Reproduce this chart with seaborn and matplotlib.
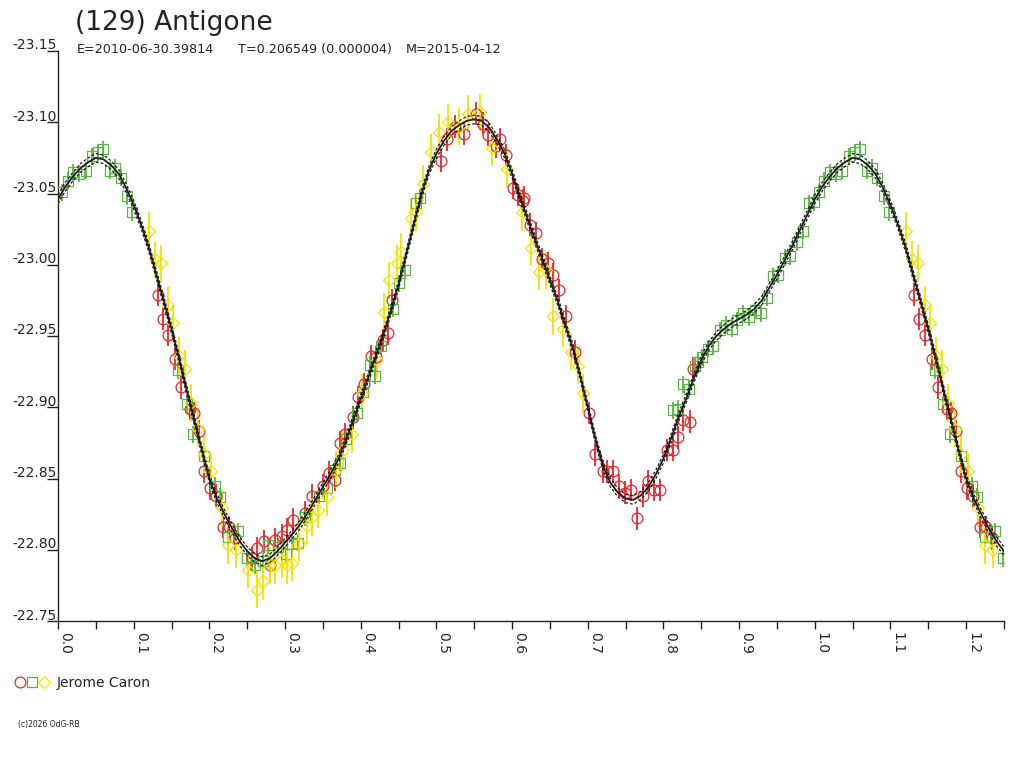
import numpy as np
import pandas as pd
import matplotlib
matplotlib.use("Agg")
import matplotlib.pyplot as plt
import matplotlib.transforms as mtransforms
from matplotlib.lines import Line2D
from matplotlib.legend_handler import HandlerTuple
import seaborn as sns

# ---------------- data ----------------
title = "(129) Antigone"
sub_epoch = "E=2010-06-30.39814"
sub_period = "T=0.206549 (0.000004)"
sub_date = "M=2015-04-12"
observer = "Jerome Caron"
copyright_txt = "(c)2026 OdG-RB"

y_ticks = [-23.15, -23.10, -23.05, -23.00, -22.95, -22.90, -22.85, -22.80, -22.75]
y_tick_labels = ["-23.15", "-23.10", "-23.05", "-23.00", "-22.95", "-22.90", "-22.85", "-22.80", "-22.75"]
x_major = [0.0, 0.1, 0.2, 0.3, 0.4, 0.5, 0.6, 0.7, 0.8, 0.9, 1.0, 1.1, 1.2]
x_major_labels = ["0.0", "0.1", "0.2", "0.3", "0.4", "0.5", "0.6", "0.7", "0.8", "0.9", "1.0", "1.1", "1.2"]
x_minor = [0.05, 0.15, 0.25, 0.35, 0.45, 0.55, 0.65, 0.75, 0.85, 0.95, 1.05, 1.15, 1.25]

# fitted light curve, phase 0..1 every 0.01
fit_phase = [i / 100 for i in range(101)]
fit_mag = [
    -23.046, -23.055, -23.062, -23.068, -23.072, -23.075, -23.074, -23.070, -23.064, -23.054,
    -23.042, -23.028, -23.012, -22.993, -22.974, -22.955, -22.934, -22.912, -22.891, -22.870,
    -22.850, -22.836, -22.825, -22.815, -22.806, -22.799, -22.794, -22.792, -22.794, -22.799,
    -22.805, -22.811, -22.818, -22.826, -22.835, -22.844, -22.853, -22.863, -22.876, -22.891,
    -22.906, -22.921, -22.936, -22.951, -22.968, -22.986, -23.007, -23.028, -23.049, -23.066,
    -23.078, -23.087, -23.094, -23.098, -23.101, -23.102, -23.101, -23.096, -23.088, -23.078,
    -23.064, -23.048, -23.033, -23.018, -23.004, -22.989, -22.975, -22.958, -22.942, -22.922,
    -22.900, -22.878, -22.859, -22.847, -22.840, -22.836, -22.835, -22.838, -22.844, -22.853,
    -22.864, -22.878, -22.893, -22.906, -22.920, -22.933, -22.943, -22.950, -22.955, -22.959,
    -22.962, -22.965, -22.969, -22.975, -22.984, -22.993, -23.003, -23.013, -23.024, -23.035,
    -23.046,
]
fit_sigma = 0.003

red_phase = [
    0.1317, 0.1383, 0.1457, 0.1546, 0.1625, 0.1744, 0.1801, 0.1863, 0.1933, 0.2008,
    0.2088, 0.2184, 0.2264, 0.2339, 0.2560, 0.2633, 0.2722, 0.2801, 0.2867, 0.2956,
    0.3030, 0.3109, 0.3264, 0.3352, 0.3498, 0.3585, 0.3660, 0.3726, 0.3792, 0.3894,
    0.3968, 0.4043, 0.4132, 0.4202, 0.4290, 0.4364, 0.4410, 0.5057, 0.5136, 0.5246,
    0.5365, 0.5523, 0.5620, 0.5686, 0.5787, 0.5840, 0.5920, 0.6008, 0.6082, 0.6140,
    0.6158, 0.6237, 0.6316, 0.6391, 0.6479, 0.6545, 0.6624, 0.6712, 0.6831, 0.7020,
    0.7096, 0.7197, 0.7258, 0.7338, 0.7417, 0.7492, 0.7567, 0.7647, 0.7726, 0.7800,
    0.7875, 0.7955, 0.8043, 0.8122, 0.8196, 0.8262, 0.8351, 0.8387,
]
red_mag = [
    -22.979, -22.962, -22.951, -22.934, -22.914, -22.899, -22.896, -22.883, -22.855, -22.843,
    -22.838, -22.816, -22.816, -22.808, -22.794, -22.801, -22.806, -22.789, -22.807, -22.810,
    -22.814, -22.821, -22.826, -22.838, -22.845, -22.854, -22.849, -22.875, -22.881, -22.893,
    -22.907, -22.916, -22.936, -22.935, -22.947, -22.952, -22.975, -23.073, -23.088, -23.097,
    -23.092, -23.106, -23.099, -23.091, -23.083, -23.088, -23.077, -23.054, -23.049, -23.045,
    -23.047, -23.028, -23.022, -23.004, -23.001, -22.993, -22.982, -22.964, -22.939, -22.896,
    -22.867, -22.855, -22.855, -22.855, -22.845, -22.840, -22.842, -22.822, -22.838, -22.848,
    -22.842, -22.842, -22.870, -22.870, -22.879, -22.891, -22.890, -22.927,
]
red_err = 0.008

green_phase = [
    0.0050, 0.0128, 0.0202, 0.0277, 0.0366, 0.0453, 0.0525, 0.0599, 0.0687, 0.0753,
    0.0828, 0.0908, 0.0982, 0.1590, 0.1700, 0.1790, 0.1930, 0.2075, 0.2141, 0.2250,
    0.2382, 0.2493, 0.2603, 0.2705, 0.2779, 0.2911, 0.3013, 0.3088, 0.3175, 0.3264,
    0.3453, 0.3558, 0.3660, 0.3726, 0.3806, 0.3955, 0.4034, 0.4123, 0.4189, 0.4268,
    0.4430, 0.4510, 0.4585, 0.4730, 0.4783, 0.8122, 0.8196, 0.8262, 0.8342, 0.8417,
    0.8460, 0.8506, 0.8593, 0.8659, 0.8747, 0.8823, 0.8902, 0.8976, 0.9055, 0.9135,
    0.9210, 0.9285, 0.9372, 0.9452, 0.9518, 0.9606, 0.9672, 0.9761, 0.9840, 0.9927,
    0.9993,
]
green_mag = [
    -23.051, -23.059, -23.065, -23.064, -23.066, -23.076, -23.079, -23.081, -23.066, -23.068,
    -23.061, -23.048, -23.037, -22.926, -22.902, -22.881, -22.866, -22.845, -22.837, -22.809,
    -22.813, -22.794, -22.789, -22.792, -22.803, -22.802, -22.797, -22.804, -22.805, -22.823,
    -22.838, -22.843, -22.856, -22.861, -22.878, -22.896, -22.911, -22.930, -22.922, -22.943,
    -22.969, -22.987, -22.996, -23.043, -23.047, -22.898, -22.899, -22.916, -22.913, -22.929,
    -22.932, -22.935, -22.941, -22.943, -22.954, -22.958, -22.955, -22.961, -22.966, -22.963,
    -22.968, -22.966, -22.977, -22.992, -22.993, -23.005, -23.006, -23.016, -23.024, -23.043,
    -23.044,
]
green_err = 0.006

yellow_phase = [
    0.1202, 0.1282, 0.1361, 0.1450, 0.1524, 0.1600, 0.1678, 0.1757, 0.1846, 0.1933,
    0.2022, 0.2163, 0.2250, 0.2352, 0.2515, 0.2626, 0.2713, 0.2801, 0.2867, 0.2956,
    0.3022, 0.3088, 0.3188, 0.3286, 0.3352, 0.3440, 0.3550, 0.3673, 0.3762, 0.3881,
    0.4013, 0.4211, 0.4308, 0.4378, 0.4483, 0.4528, 0.4660, 0.4730, 0.4827, 0.4925,
    0.5038, 0.5157, 0.5303, 0.5422, 0.5576, 0.5731, 0.5937, 0.6127, 0.6246, 0.6360,
    0.6448, 0.6545, 0.6669, 0.6775, 0.6875, 0.6933,
]
yellow_mag = [
    -23.024, -23.004, -23.001, -22.972, -22.959, -22.936, -22.927, -22.903, -22.885, -22.867,
    -22.855, -22.829, -22.803, -22.800, -22.786, -22.772, -22.778, -22.789, -22.789, -22.793,
    -22.789, -22.791, -22.805, -22.817, -22.823, -22.828, -22.837, -22.856, -22.870, -22.881,
    -22.910, -22.933, -22.967, -22.989, -23.001, -23.009, -23.033, -23.037, -23.057, -23.079,
    -23.093, -23.100, -23.097, -23.106, -23.107, -23.082, -23.067, -23.037, -23.012, -22.995,
    -22.996, -22.964, -22.955, -22.939, -22.929, -22.910,
]
yellow_err = 0.013

# ---------------- styles ----------------
W, H = 1024, 768
TEXT = "#222222"
CURVE = "#1a1a1a"
C_RED = "#E8262C"
C_GREEN = "#5CB446"
C_YELLOW = "#F2E400"
X_MAX = 1.25

sns.set_theme(style="white")
plt.rcParams["font.family"] = ["DejaVu Sans"]


def wrap(phase, mag):
    """Repeat the first part of the phase range after phase 1."""
    df = pd.DataFrame({"phase": phase, "mag": mag})
    extra = df[df["phase"] + 1 <= X_MAX + 1e-9].copy()
    extra["phase"] = extra["phase"] + 1
    extra = extra[extra["phase"] > 1.0 + 1e-9]
    return pd.concat([df, extra], ignore_index=True).sort_values("phase")


fit_df = wrap(fit_phase, fit_mag)
fit_df["upper"] = fit_df["mag"] - fit_sigma
fit_df["lower"] = fit_df["mag"] + fit_sigma

fig = plt.figure(figsize=(W / 100, H / 100), dpi=100)
ax = fig.add_axes([58 / W, 1 - 621 / H, 946 / W, 570 / H])
ax.set_facecolor("white")

series = [
    (red_phase, red_mag, red_err, C_RED, "o", 7.8),
    (green_phase, green_mag, green_err, C_GREEN, "s", 6.5),
    (yellow_phase, yellow_mag, yellow_err, C_YELLOW, "D", 6.3),
]
for ph, mg, err, col, mk, ms in series:
    d = wrap(ph, mg)
    ax.errorbar(d["phase"], d["mag"], yerr=err, fmt="none", ecolor=col,
                elinewidth=1.3, capsize=0, zorder=2)
    ax.plot(d["phase"], d["mag"], linestyle="none", marker=mk, ms=ms,
            mfc="none", mec=col, mew=0.9, zorder=3)

sns.lineplot(data=fit_df, x="phase", y="mag", estimator=None, sort=False,
             color=CURVE, lw=1.3, ax=ax, zorder=5)
for col in ["upper", "lower"]:
    sns.lineplot(data=fit_df, x="phase", y=col, estimator=None, sort=False,
                 color=CURVE, lw=0.9, ax=ax, zorder=4, dashes=False,
                 linestyle=(0, (2.2, 1.6)))

ax.set_xlim(0, X_MAX)
ax.set_ylim(y_ticks[-1], y_ticks[0])
ax.set_xlabel("")
ax.set_ylabel("")

for s in ["top", "right"]:
    ax.spines[s].set_visible(False)
for s in ["left", "bottom"]:
    ax.spines[s].set_color(TEXT)
    ax.spines[s].set_linewidth(1.0)

# x ticks
ax.set_xticks(x_major)
ax.set_xticks(x_minor, minor=True)
ax.set_xticklabels(x_major_labels, rotation=-90, fontsize=10, color=TEXT)
for lbl in ax.get_xticklabels():
    lbl.set_ha("left")
    lbl.set_va("top")
ax.tick_params(axis="x", which="both", direction="out", length=6, width=1,
               color=TEXT, pad=2, bottom=True)

# y ticks: tick line under the label, label sitting on the tick
ax.set_yticks(y_ticks)
ax.set_yticklabels([])
ax.tick_params(axis="y", which="major", direction="out", length=8, width=1,
               color=TEXT, left=True)
ytrans = ax.get_yaxis_transform() + mtransforms.ScaledTranslation(-1 / 100, 1.5 / 100, fig.dpi_scale_trans)
for v, t in zip(y_ticks, y_tick_labels):
    ax.text(0, v, t, transform=ytrans, ha="right", va="baseline",
            fontsize=10, color=TEXT)

# titles
fig.text(75 / W, 1 - 30 / H, title, fontsize=19, color=TEXT, va="baseline")
fig.text(77 / W, 1 - 53 / H, sub_epoch, fontsize=9.2, color=TEXT, va="baseline")
fig.text(238 / W, 1 - 53 / H, sub_period, fontsize=9.2, color=TEXT, va="baseline")
fig.text(406 / W, 1 - 53 / H, sub_date, fontsize=9.2, color=TEXT, va="baseline")

# legend
h_r = Line2D([], [], linestyle="none", marker="o", ms=7.8, mfc="none", mec=C_RED, mew=0.9)
h_g = Line2D([], [], linestyle="none", marker="s", ms=6.5, mfc="none", mec=C_GREEN, mew=0.9)
h_y = Line2D([], [], linestyle="none", marker="D", ms=6.3, mfc="none", mec=C_YELLOW, mew=0.9)
fig.legend(handles=[(h_r, h_g, h_y)], labels=[observer],
           handler_map={tuple: HandlerTuple(ndivide=None, pad=0.0)},
           loc="center left", bbox_to_anchor=(14 / W, 1 - 683 / H),
           frameon=False, fontsize=10, handlelength=2.6, handletextpad=0.45,
           borderpad=0, borderaxespad=0, labelcolor=TEXT)

fig.text(18 / W, 1 - 725 / H, copyright_txt, fontsize=5.5, color=TEXT, va="center")

fig.savefig("out.png", dpi=100, facecolor="white")
